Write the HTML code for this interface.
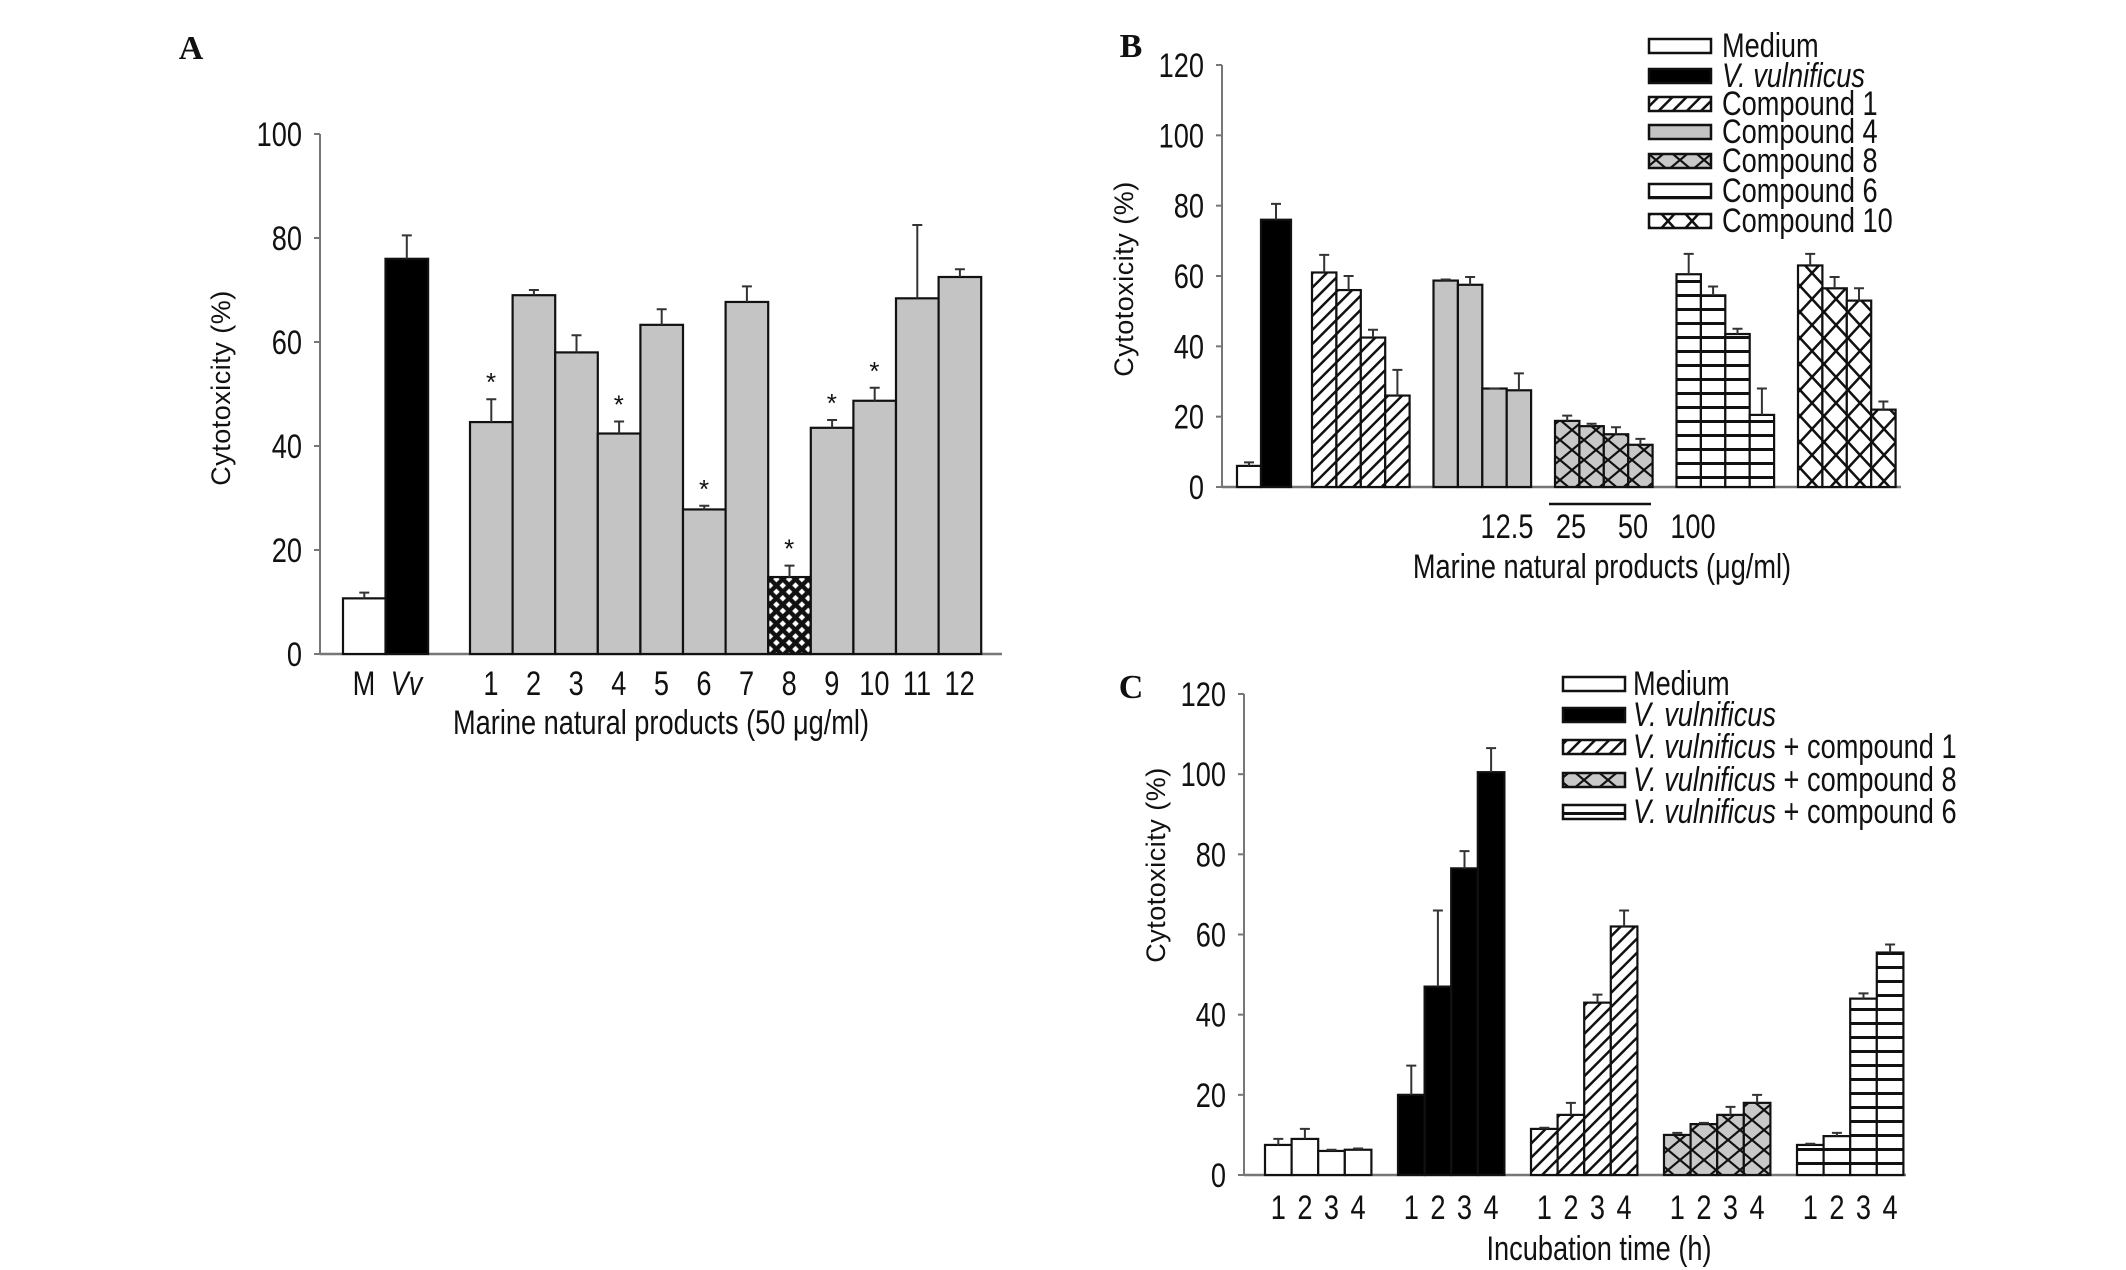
<!DOCTYPE html>
<html><head><meta charset="utf-8"><style>
html,body{margin:0;padding:0;background:#fff;overflow:hidden}
svg{display:block}
text{font-family:"Liberation Sans Narrow","Liberation Sans",sans-serif;fill:#111}
</style></head><body>
<svg id="c" width="2126" height="1270" viewBox="0 0 2126 1270" xmlns="http://www.w3.org/2000/svg">
<defs>
<pattern id="pDiag" patternUnits="userSpaceOnUse" width="10" height="10" patternTransform="rotate(45)"><rect width="10" height="10" fill="#fff"/><rect width="2.5" height="10" fill="#111"/></pattern>
<pattern id="pHoriz" patternUnits="userSpaceOnUse" width="10" height="14"><rect width="10" height="14" fill="#fff"/><rect width="10" height="3" fill="#111"/></pattern>
<pattern id="pCrossW" patternUnits="userSpaceOnUse" width="24" height="26"><rect width="24" height="26" fill="#fff"/><path d="M0,0 L24,26 M24,0 L0,26" stroke="#111" stroke-width="2.5"/></pattern>
<pattern id="pCrossG" patternUnits="userSpaceOnUse" width="24" height="20"><rect width="24" height="20" fill="#c8c8c8"/><path d="M0,0 L24,20 M24,0 L0,20" stroke="#111" stroke-width="2.2"/></pattern>
<pattern id="pCheck" patternUnits="userSpaceOnUse" width="9" height="9" patternTransform="rotate(45)"><rect width="9" height="9" fill="#111"/><rect x="2.2" y="2.2" width="4.6" height="4.6" fill="#fff"/></pattern>
</defs>
<g id="root"></g>
</svg>
<script>
// Panel A data
const aCats = ["M","Vv","1","2","3","4","5","6","7","8","9","10","11","12"];
const aVals = [10.7,76,44.6,69,58,42.4,63.3,27.8,67.7,14.8,43.5,48.7,68.4,72.5];
const aErrs = [11.8,80.5,49,70,61.3,44.7,66.3,28.5,70.7,17,45,51.2,82.5,74];
const aStars = [0,0,1,0,0,1,0,1,0,1,1,1,0,0];
const aTicks = [0,20,40,60,80,100];
// Panel B data
const bMedium = [6]; const bMediumErr = [7];
const bVv = [76]; const bVvErr = [80.5];
const bC1 = [61,56,42.5,26]; const bC1Err = [66,60,44.7,33.3];
const bC4 = [58.7,57.5,28,27.5]; const bC4Err = [59,59.7,28,32.3];
const bC8 = [18.8,17.3,15,12]; const bC8Err = [20.3,18,17,13.7];
const bC6 = [60.5,54.5,43.5,20.5]; const bC6Err = [66.3,57,45,28];
const bC10 = [63,56.5,53,22]; const bC10Err = [66.3,59.7,56.5,24.3];
const bTicks = [0,20,40,60,80,100,120];
const bConc = ["12.5","25","50","100"];
// Panel C data
const cHours = ["1","2","3","4"];
const cMedium = [7.5,9,6,6.3]; const cMediumErr = [9,11.5,6.3,6.6];
const cVv = [20,47,76.5,100.5]; const cVvErr = [27.3,66,80.8,106.5];
const cC1 = [11.5,15,43,62]; const cC1Err = [11.8,18,45,66];
const cC8 = [10,12.7,15,18]; const cC8Err = [10.5,13,17,20];
const cC6 = [7.5,9.7,44,55.5]; const cC6Err = [7.8,10.5,45.3,57.5];
const cTicks = [0,20,40,60,80,100,120];

const FS=34, SX=0.8;
const NS="http://www.w3.org/2000/svg";
const root=document.getElementById('root');
function mk(tag,attrs,parent){const e=document.createElementNS(NS,tag);for(const k in attrs)e.setAttribute(k,attrs[k]);(parent||root).appendChild(e);return e;}
function txt(x,y,s,size,anchor,sx,parent,italic){
  const g=mk('g',{transform:`translate(${x},${y}) scale(${sx},1)`},parent);
  const t=mk('text',{x:0,y:0,'font-size':size,'text-anchor':anchor||'middle'},g);
  if(italic)t.setAttribute('font-style','italic');
  t.textContent=s;return g;}
function yScale(y0,y1,vmax){return v=>y0-(v/vmax)*(y0-y1);}
function bar(g,x,w,v,e,fill,ys,name){
  const r=mk('rect',{x:x,y:ys(v),width:w,height:ys(0)-ys(v),fill:fill,stroke:'#111','stroke-width':2.2},g);
  
  
  const cx=x+w/2;
  const eb=mk('path',{d:`M${cx},${ys(v)} V${ys(e)} M${cx-5},${ys(e)} H${cx+5}`,stroke:'#333','stroke-width':2,fill:'none'},g);
  
  
}
function yAxis(g,x,ys,ticks,xEnd,lblX){
  mk('line',{x1:x,y1:ys(ticks[ticks.length-1]),x2:x,y2:ys(0),stroke:'#777','stroke-width':2},g);
  mk('line',{x1:x,y1:ys(0),x2:xEnd,y2:ys(0),stroke:'#777','stroke-width':2.5},g);
  ticks.forEach(t=>{mk('line',{x1:x-6,y1:ys(t),x2:x,y2:ys(t),stroke:'#777','stroke-width':2},g);
    const l=txt(lblX,ys(t)+12,String(t),FS,'end',SX,g);
    
    });
}
function legend(g,x,tx,rows,items){
  items.forEach((it,i)=>{
    const r=mk('rect',{x:x,y:rows[i]-7,width:62,height:14,fill:it[0],stroke:'#111','stroke-width':2.5},g);
    
    
    const t=mk('g',{transform:`translate(${tx},${rows[i]+11}) scale(${SX},1)`},g);
    
    
    const te=mk('text',{x:0,y:0,'font-size':FS},t);
    it[1].forEach(p=>{const s=mk('tspan',{},te);if(p[1])s.setAttribute('font-style','italic');s.textContent=p[0];});
  });
}
function vtitle(g,x,y,s){const t=mk('text',{x:0,y:0,'font-size':27,'text-anchor':'middle',transform:`translate(${x},${y}) rotate(-90)`,'letter-spacing':'0.5'},g);t.style.fontFamily='"Liberation Sans",sans-serif';t.textContent=s;return t;}
function panelLetter(g,x,y,s){const t=mk('text',{x:x,y:y,'font-size':34,'font-weight':'bold','text-anchor':'middle'},g);t.style.fontFamily='"Liberation Serif",serif';t.textContent=s;}

// ===== Panel A =====
(function(){
  const g=mk('g',{});
  const ys=yScale(654,134,100);
  panelLetter(g,191,59,'A');
  yAxis(g,320,ys,aTicks,1002,302);
  const fills=aCats.map((c,i)=>i===0?'#fff':i===1?'#000':i===9?'url(#pCheck)':'#c4c4c4');
  aCats.forEach((c,i)=>{
    const x=i<2?343+i*42.5:470+(i-2)*42.6;
    bar(g,x,42.6,aVals[i],aErrs[i],fills[i],ys,'bar-'+c.toLowerCase());
    const l=txt(x+21,695,c,FS,'middle',SX,g,c==='Vv');
    
    if(aStars[i]){const s=txt(x+21,ys(aErrs[i])-8,'*',26,'middle',1,g);
      }
  });
  const xt=txt(661,734,'Marine natural products (50 \u03bcg/ml)',FS,'middle',SX,g);
  
  const yt=vtitle(g,230,388,'Cytotoxicity (%)');
  
})();

// ===== Panel B =====
(function(){
  const g=mk('g',{});
  const ys=yScale(487,65,120);
  panelLetter(g,1131,57,'B');
  yAxis(g,1222,ys,bTicks,1901,1204);
  bar(g,1237,24,bMedium[0],bMediumErr[0],'#fff',ys,'bar-medium');
  bar(g,1261,30,bVv[0],bVvErr[0],'#000',ys,'bar-v-vulnificus');
  const groups=[[bC1,bC1Err,'url(#pDiag)','compound-1'],[bC4,bC4Err,'#c4c4c4','compound-4'],[bC8,bC8Err,'url(#pCrossG)','compound-8'],[bC6,bC6Err,'url(#pHoriz)','compound-6'],[bC10,bC10Err,'url(#pCrossW)','compound-10']];
  groups.forEach((gr,gi)=>{gr[0].forEach((v,j)=>{bar(g,1312+gi*121.5+j*24.4,24.4,v,gr[1][j],gr[2],ys,'bar-'+gr[3]+'-'+bConc[j]);});});
  const ln=mk('line',{x1:1549,y1:504,x2:1651,y2:504,stroke:'#111','stroke-width':2.5},g);
  
  const cx=[1507,1571,1633,1693];
  bConc.forEach((c,i)=>{const l=txt(cx[i],538,c,FS,'middle',SX,g);});
  const xt=txt(1602,578,'Marine natural products (\u03bcg/ml)',FS,'middle',SX,g);
  
  const yt=vtitle(g,1133,279,'Cytotoxicity (%)');
  
  legend(g,1649,1722,[46,76,104,132,161,191,221],[
    ['#fff',[['Medium']]],['#000',[['V. vulnificus',1]]],['url(#pDiag)',[['Compound 1']]],['#c4c4c4',[['Compound 4']]],
    ['url(#pCrossG)',[['Compound 8']]],['url(#pHoriz)',[['Compound 6']]],['url(#pCrossW)',[['Compound 10']]]]);
})();

// ===== Panel C =====
(function(){
  const g=mk('g',{});
  const ys=yScale(1175,694,120);
  panelLetter(g,1131,698,'C');
  yAxis(g,1244,ys,cTicks,1906,1226);
  const groups=[[cMedium,cMediumErr,'#fff','medium'],[cVv,cVvErr,'#000','v-vulnificus'],[cC1,cC1Err,'url(#pDiag)','compound-1'],[cC8,cC8Err,'url(#pCrossG)','compound-8'],[cC6,cC6Err,'url(#pHoriz)','compound-6']];
  const gx=[1265,1398,1531,1664,1797];
  groups.forEach((gr,gi)=>{gr[0].forEach((v,j)=>{
    const x=gx[gi]+j*26.6;
    bar(g,x,26.6,v,gr[1][j],gr[2],ys,'bar-'+gr[3]+'-'+cHours[j]+'h');
    const l=txt(x+13.3,1219,cHours[j],FS,'middle',SX,g);
    
  });});
  const xt=txt(1599,1260,'Incubation time (h)',FS,'middle',SX,g);
  
  const yt=vtitle(g,1165,865,'Cytotoxicity (%)');
  
  legend(g,1563,1633,[684,715,747,780,812],[
    ['#fff',[['Medium']]],['#000',[['V. vulnificus',1]]],['url(#pDiag)',[['V. vulnificus',1],[' + compound 1']]],
    ['url(#pCrossG)',[['V. vulnificus',1],[' + compound 8']]],['url(#pHoriz)',[['V. vulnificus',1],[' + compound 6']]]]);
})();
</script>
</body></html>
